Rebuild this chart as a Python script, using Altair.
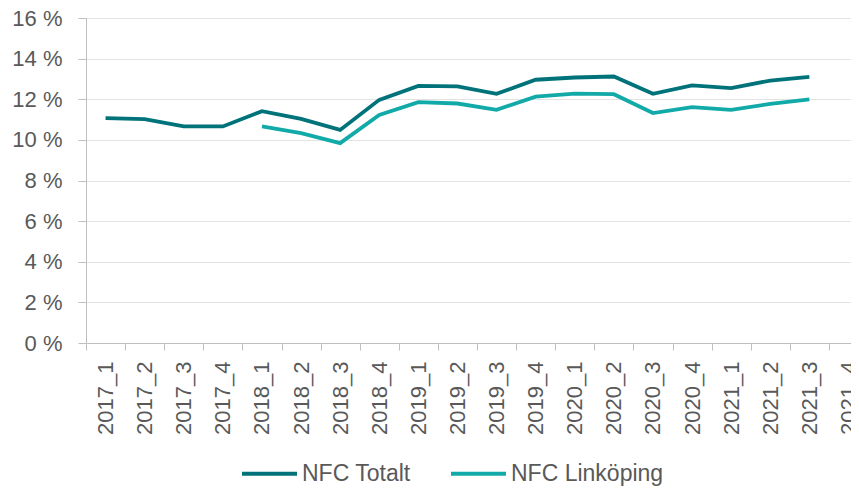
import altair as alt
import pandas as pd

quarters = ["2017_1", "2017_2", "2017_3", "2017_4",
            "2018_1", "2018_2", "2018_3", "2018_4",
            "2019_1", "2019_2", "2019_3", "2019_4",
            "2020_1", "2020_2", "2020_3", "2020_4",
            "2021_1", "2021_2", "2021_3", "2021_4"]

totalt = [11.07, 11.02, 10.66, 10.66,
          11.41, 11.03, 10.49, 11.97,
          12.66, 12.63, 12.27, 12.96,
          13.07, 13.12, 12.27, 12.68,
          12.55, 12.92, 13.10, None]

linkoping = [None, None, None, None,
             10.66, 10.33, 9.84, 11.23,
             11.86, 11.79, 11.48, 12.13,
             12.28, 12.25, 11.32, 11.61,
             11.48, 11.77, 11.99, None]

series_names = ["NFC Totalt", "NFC Linköping"]
series_colors = ["#00737a", "#12aaa8"]

rows = []
for name, vals in zip(series_names, [totalt, linkoping]):
    for q, v in zip(quarters, vals):
        if v is not None:
            rows.append({"Kvartal": q, "Serie": name, "Värde": v})
df = pd.DataFrame(rows)

font = "Liberation Sans"
gray = "#595959"

chart = alt.Chart(df).mark_line(strokeWidth=3.8, strokeCap="butt", strokeJoin="miter").encode(
    x=alt.X("Kvartal:N", sort=quarters,
            scale=alt.Scale(domain=quarters, paddingInner=0, paddingOuter=0, range=[0, 782]),
            axis=alt.Axis(title=None, labelAngle=-90, labelAlign="right", labelBaseline="middle",
                          labelFont=font, labelFontSize=22, labelColor=gray, labelPadding=11,
                          tickBand="extent", tickSize=7, tickColor="#bfbfbf", domainColor="#bfbfbf",
                          grid=False, labelOverlap=False)),
    y=alt.Y("Värde:Q", scale=alt.Scale(domain=[0, 16], nice=False),
            axis=alt.Axis(title=None, values=[0, 2, 4, 6, 8, 10, 12, 14, 16],
                          labelExpr="datum.value + ' %'", labelFont=font, labelFontSize=22,
                          labelColor=gray, labelPadding=16, tickSize=8, tickColor="#bfbfbf",
                          domainColor="#bfbfbf", gridColor="#e3e3e3")),
    color=alt.Color("Serie:N", scale=alt.Scale(domain=series_names, range=series_colors),
                    legend=alt.Legend(title=None, orient="none", direction="horizontal",
                                      legendX=154, legendY=426,
                                      symbolType="stroke", symbolSize=3025, symbolStrokeWidth=4,
                                      labelFont=font, labelFontSize=23, labelColor=gray,
                                      labelOffset=3, columnPadding=32)),
).properties(
    width=765, height=325,
    autosize=alt.AutoSizeParams(type="none"),
    padding={"left": 78, "top": 10, "right": 0, "bottom": 143},
).configure_view(stroke=None).configure(background="white")

chart.save("out.html", embed_options={"renderer": "svg", "actions": False})
